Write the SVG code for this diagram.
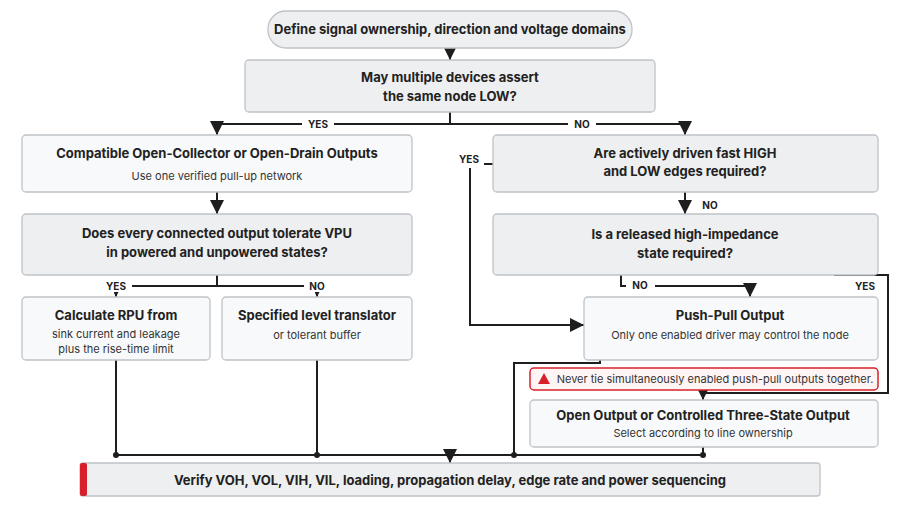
<svg xmlns="http://www.w3.org/2000/svg" width="900" height="507" viewBox="0 0 900 507">
<defs>
<style>
text{font-family:Inter,"Liberation Sans",sans-serif;fill:#222;text-anchor:middle}
.t{font-size:13px;font-weight:bold}
.s{font-size:11px;fill:#333}
.l{font-size:10px;font-weight:bold}
.q{fill:#eeeff1;stroke:#bfc3c8;stroke-width:1.3}
.b{fill:#f8f9fa;stroke:#bfc3c8;stroke-width:1.3}
.c{fill:none;stroke:#1e1e1e;stroke-width:2}
</style>
<marker id="a" viewBox="0 0 10 10" refX="10" refY="5" markerWidth="7" markerHeight="7" orient="auto"><path d="M0,0L10,5L0,10z" fill="#1e1e1e"/></marker>
<marker id="sm" viewBox="0 0 10 10" refX="10" refY="5" markerWidth="2.5" markerHeight="2.5" orient="auto"><path d="M0,0L10,5L0,10z" fill="#1e1e1e"/></marker>
</defs>
<rect width="900" height="507" fill="#fff"/>
<g id="connectors">
<path class="c" d="M450,48V60" marker-end="url(#a)"/>
<path class="c" d="M450,112V124H217V135" marker-end="url(#a)"/>
<path class="c" d="M450,124H685V135" marker-end="url(#a)"/>
<path class="c" d="M217,192V214" marker-end="url(#a)"/>
<path class="c" d="M217,275V286H116V297" marker-end="url(#sm)"/>
<path class="c" d="M217,286H317V297" marker-end="url(#sm)"/>
<path class="c" d="M116,360V455"/>
<path class="c" d="M317,360V455"/>
<path class="c" d="M493,164H484"/>
<path class="c" d="M470,168V325H584" marker-end="url(#a)"/>
<path class="c" d="M685,192V214" marker-end="url(#a)"/>
<path class="c" d="M621,275V286H626"/>
<path class="c" d="M655,286H750V297" marker-end="url(#a)"/>
<path class="c" d="M834,275H888V393H703V400" marker-end="url(#a)"/>
<path class="c" d="M600,360V363H514V455"/>
<path class="c" d="M703,447V455"/>
<path class="c" d="M116,455H703" stroke-width="1.5"/>
<path class="c" d="M450,455V463" marker-end="url(#a)"/>
<g fill="#1e1e1e"><circle cx="116" cy="455" r="3"/><circle cx="317" cy="455" r="3"/><circle cx="514" cy="455" r="3"/><circle cx="703" cy="455" r="3"/></g>
<rect x="302" y="118" width="32" height="12" fill="#fff"/><text class="l" x="318" y="128">YES</text>
<rect x="568" y="118" width="28" height="12" fill="#fff"/><text class="l" x="582" y="128">NO</text>
<rect x="100" y="280" width="32" height="12" fill="#fff"/><text class="l" x="116" y="290">YES</text>
<rect x="304" y="280" width="26" height="12" fill="#fff"/><text class="l" x="317" y="290">NO</text>
<text class="l" x="469" y="163">YES</text>
<text class="l" x="710" y="209">NO</text>
<text class="l" x="640" y="289">NO</text>
<text class="l" x="865" y="290">YES</text>
</g>
<g id="start"><rect x="268" y="11" width="364" height="37" rx="18" class="q" stroke-width="1.5"/><text class="t" x="450" y="34">Define signal ownership, direction and voltage domains</text></g>
<g id="q1"><rect x="245" y="60" width="410" height="52" rx="4" class="q"/><text class="t" x="450" y="82">May multiple devices assert</text><text class="t" x="450" y="101">the same node LOW?</text></g>
<g id="oc"><rect x="22" y="135" width="390" height="57" rx="4" class="b"/><text class="t" x="217" y="158">Compatible Open-Collector or Open-Drain Outputs</text><text class="s" x="217" y="180">Use one verified pull-up network</text></g>
<g id="q2"><rect x="22" y="214" width="390" height="61" rx="4" class="q"/><text class="t" x="217" y="238">Does every connected output tolerate VPU</text><text class="t" x="217" y="257">in powered and unpowered states?</text></g>
<g id="rpu"><rect x="22" y="297" width="188" height="63" rx="4" class="b"/><text class="t" x="116" y="320">Calculate RPU from</text><text class="s" x="116" y="338">sink current and leakage</text><text class="s" x="116" y="353">plus the rise-time limit</text></g>
<g id="lt"><rect x="222" y="297" width="190" height="63" rx="4" class="b"/><text class="t" x="317" y="320">Specified level translator</text><text class="s" x="317" y="339">or tolerant buffer</text></g>
<g id="q3"><rect x="493" y="135" width="385" height="57" rx="4" class="q"/><text class="t" x="685" y="158">Are actively driven fast HIGH</text><text class="t" x="685" y="176">and LOW edges required?</text></g>
<g id="q4"><rect x="493" y="214" width="385" height="61" rx="4" class="q"/><text class="t" x="685" y="239">Is a released high-impedance</text><text class="t" x="685" y="258">state required?</text></g>
<g id="pp"><rect x="584" y="297" width="294" height="63" rx="4" class="b"/><text class="t" x="730" y="320">Push-Pull Output</text><text class="s" x="730" y="339">Only one enabled driver may control the node</text></g>
<g id="warn"><rect x="530" y="368" width="348" height="22" rx="4" fill="#fff5f5" stroke="#d7202a" stroke-width="1.5"/><path d="M544,373L550,384H538z" fill="#d7202a"/><text class="s" x="715" y="383">Never tie simultaneously enabled push-pull outputs together.</text></g>
<g id="oo"><rect x="530" y="400" width="348" height="47" rx="4" class="b"/><text class="t" x="703" y="420">Open Output or Controlled Three-State Output</text><text class="s" x="703" y="437">Select according to line ownership</text></g>
<g id="verify"><rect x="80" y="463" width="740" height="33" rx="3" class="q"/><rect x="80" y="463" width="7" height="33" rx="2" fill="#d7202a"/><text class="t" x="450" y="485">Verify VOH, VOL, VIH, VIL, loading, propagation delay, edge rate and power sequencing</text></g>
</svg>
